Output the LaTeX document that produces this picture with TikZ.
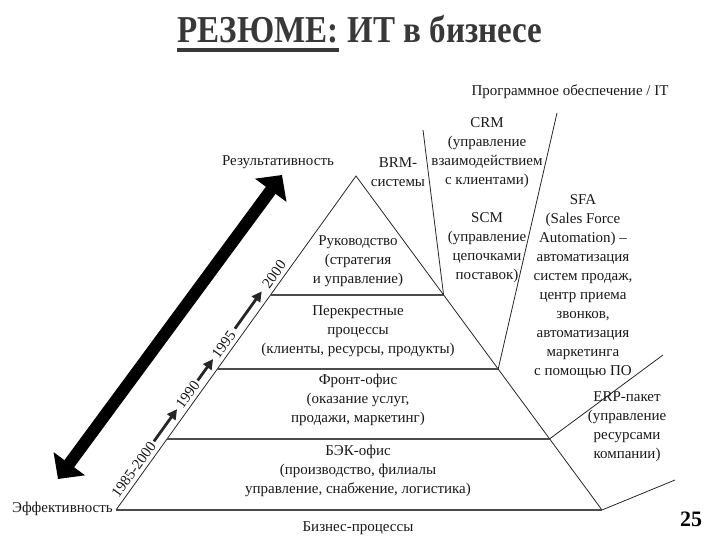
\documentclass[tikz,border=0pt]{standalone}
\usepackage{fontspec}
\usepackage{graphicx}
\setmainfont{Liberation Serif}
\usetikzlibrary{arrows.meta,calc}
\begin{document}
\begin{tikzpicture}[x=1pt,y=-1pt,
    lbl/.style={font=\fontsize{15}{19}\selectfont, text=black!90, align=center, inner sep=0pt},
    ttl/.style={font=\fontsize{38}{38}\selectfont\bfseries, text=black!78, anchor=base west, inner sep=0pt},
    yr/.style={font=\fontsize{15}{15}\selectfont, text=black!90, sloped, above=3pt, inner sep=1pt},
    side/.style={black!85, line width=0.8pt},
    tier/.style={black!70, line width=1.6pt},
    yrarrow/.style={-{Triangle[length=10pt,width=10pt]}, line width=2.8pt, black!85}]
    \useasboundingbox (0,0) rectangle (720,540);
    % Заголовок
    \node[ttl] (ttlA) at (177,43) {\scalebox{0.87}[1]{РЕЗЮМЕ:}};
    \node[ttl] (ttlB) at (ttlA.base east) {\scalebox{0.87}[1]{\ ИТ в бизнесе}};
    \draw[black!78, line width=3.5pt] ([yshift=-7pt]ttlA.base west) -- ([yshift=-7pt]ttlA.base east);
    % Пирамида
    \coordinate (apex) at (356,176);
    \coordinate (bl) at (116,510);
    \coordinate (br) at (602,510);
    \coordinate (l1) at ($(apex)!0.356!(bl)$);
    \coordinate (r1) at ($(apex)!0.356!(br)$);
    \coordinate (l2) at ($(apex)!0.578!(bl)$);
    \coordinate (r2) at ($(apex)!0.578!(br)$);
    \coordinate (l3) at ($(apex)!0.787!(bl)$);
    \coordinate (r3) at ($(apex)!0.787!(br)$);
    \draw[side] (bl) -- (apex) -- (br);
    \draw[tier] (l1) -- (r1);
    \draw[tier] (l2) -- (r2);
    \draw[tier] (l3) -- (r3);
    \draw[tier] (bl) -- (br);
    % Линии ПО / IT
    \coordinate (itA) at (423,130);
    \coordinate (itB) at (557,113);
    \coordinate (itC) at (663,355);
    \coordinate (itD) at (675,480);
    \draw[side] (r1) -- (itA);
    \draw[side] (r2) -- (itB);
    \draw[side] (r3) -- (itC);
    \draw[side] (br) -- (itD);
    % Большая стрелка
    \coordinate (effend) at (58,479);
    \coordinate (resend) at (282,175);
    \draw[{Triangle[length=19pt,width=38pt]}-{Triangle[length=19pt,width=38pt]}, line width=12pt] (effend) -- (resend);
    % Годы
    \path (bl) -- (apex)
        node[yr, pos=0.105] (y85) {1985-2000}
        node[yr, pos=0.33] (y90) {1990}
        node[yr, pos=0.48] (y95) {1995}
        node[yr, pos=0.69] (y00) {2000};
    \draw[yrarrow, shorten <=1pt, shorten >=2pt] (y85.east) -- (y90.west);
    \draw[yrarrow, shorten <=1pt, shorten >=2pt] (y90.east) -- (y95.west);
    \draw[yrarrow, shorten <=3pt, shorten >=5pt] (y95.east) -- (y00.west);
    % Подписи
    \node[lbl] (prog) at (570,92) {Программное обеспечение / IT};
    \node[lbl] (res) at (278,162) {Результативность};
    \node[lbl, anchor=east] (eff) at (113,509) {Эффективность};
    \node[lbl] (biz) at (358,528) {Бизнес-процессы};
    \node[lbl] (brm) at (398,172) {BRM-\\системы};
    \node[lbl] (crm) at (487,153) {CRM\\(управление\\взаимодействием\\с клиентами)};
    \node[lbl] (scm) at (487,248) {SCM\\(управление\\цепочками\\поставок)};
    \node[lbl] (sfa) at (583,287) {SFA\\(Sales Force\\Automation) --\\автоматизация\\систем продаж,\\центр приема\\звонков,\\автоматизация\\маркетинга\\с помощью ПО};
    \node[lbl] (erp) at (627,427) {ERP-пакет\\(управление\\ресурсами\\компании)};
    % Уровни пирамиды
    \node[lbl] (rukov) at (358,261) {Руководство\\(стратегия\\и управление)};
    \node[lbl] (perekr) at (358,331) {Перекрестные\\процессы\\(клиенты, ресурсы, продукты)};
    \node[lbl] (front) at (358,400) {Фронт-офис\\(оказание услуг,\\продажи, маркетинг)};
    \node[lbl] (back) at (358,471) {БЭК-офис\\(производство, филиалы\\управление, снабжение, логистика)};
    \node[font=\fontsize{22}{22}\selectfont\bfseries, inner sep=0pt] (pg) at (691,519) {25};
\end{tikzpicture}
\end{document}
